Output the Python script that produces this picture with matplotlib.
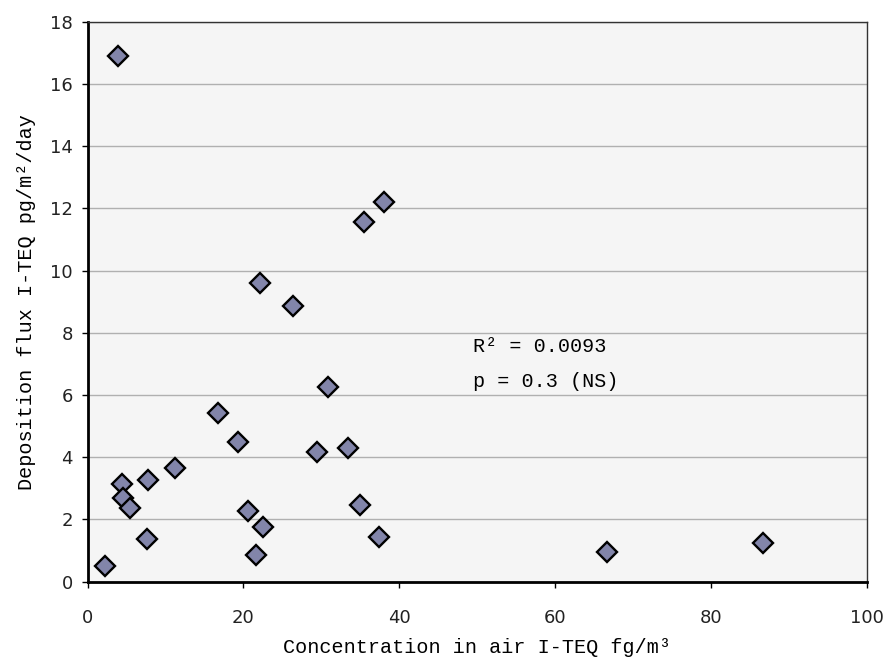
import matplotlib
matplotlib.use('Agg')
import matplotlib.pyplot as plt
import numpy as np

########################################################
# Data
########################################################

conc_air = [3.9, 38.0, 35.5, 22.1, 26.4, 30.8, 16.7, 19.3, 29.5, 33.4,
            11.2, 7.8, 4.4, 4.6, 5.5, 20.6, 35.0, 22.5, 7.6, 37.4,
            21.6, 2.3, 66.6, 86.7]
dep_flux = [16.9, 12.2, 11.57, 9.6, 8.87, 6.26, 5.41, 4.5, 4.17, 4.31,
            3.66, 3.27, 3.14, 2.68, 2.38, 2.28, 2.48, 1.77, 1.37, 1.43,
            0.86, 0.51, 0.96, 1.23]

x_ticks = [0, 20, 40, 60, 80, 100]
y_ticks = [0, 2, 4, 6, 8, 10, 12, 14, 16, 18]

mono = 'Liberation Mono'

fig = plt.figure(figsize=(8.87, 6.59), dpi=100)
ax = fig.add_axes([0.0987, 0.1173, 0.8788, 0.8498])
ax.set_facecolor('#F5F5F5')

ax.plot(conc_air, dep_flux, linestyle='none', marker='D', markersize=10.5,
        markerfacecolor='#8285AA', markeredgecolor='black', markeredgewidth=1.7,
        zorder=3)

ax.set_xlim(0, 100)
ax.set_ylim(0, 18)
ax.set_xticks(x_ticks)
ax.set_yticks(y_ticks)
ax.grid(True, axis='y', color='#B0B0B0', linewidth=1)
ax.set_axisbelow(True)

for side in ['left', 'bottom']:
    ax.spines[side].set_linewidth(2)
    ax.spines[side].set_color('black')
for side in ['top', 'right']:
    ax.spines[side].set_linewidth(1)
    ax.spines[side].set_color('#333333')

ax.tick_params(axis='both', direction='out', length=4.5, width=1, labelsize=13,
               colors='black')
for lbl in ax.get_xticklabels() + ax.get_yticklabels():
    lbl.set_color('#222222')
ax.tick_params(axis='x', pad=15)
ax.tick_params(axis='y', pad=6)

ax.set_xlabel('Concentration in air I-TEQ fg/m\u00b3', fontfamily=mono,
              fontsize=14.5, labelpad=8)
ax.set_ylabel('Deposition flux I-TEQ pg/m\u00b2/day', fontfamily=mono,
              fontsize=14.5, labelpad=10)

ax.text(49.5, 7.55, 'R\u00b2 = 0.0093', fontfamily=mono, fontsize=14.5,
        va='center', ha='left')
ax.text(49.5, 6.42, 'p = 0.3 (NS)', fontfamily=mono, fontsize=14.5,
        va='center', ha='left')

fig.savefig('out.png', dpi=100, facecolor='white')
